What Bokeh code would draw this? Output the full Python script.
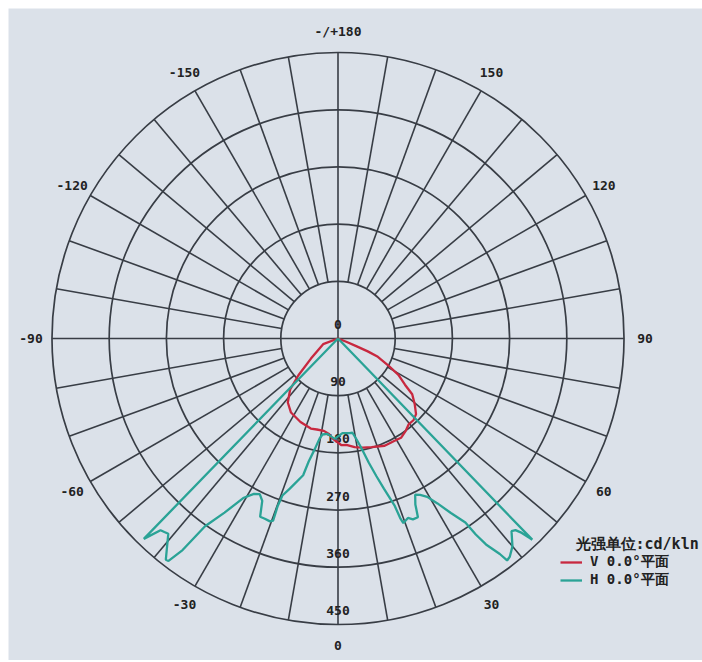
import numpy as np
from bokeh.plotting import figure
from bokeh.models import Legend, LegendItem, Label
from bokeh.embed import file_html
from bokeh.resources import INLINE
from bokeh.core.properties import value

# ---------------- data ----------------
ring_values = [90, 180, 270, 360, 450]
ring_label_values = [0, 90, 180, 270, 360, 450]
ring_labels = ["0", "90", "180", "270", "360", "450"]

angle_ticks = [0, 30, 60, 90, 120, 150, 180, -150, -120, -90, -60, -30]
angle_labels = ["0", "30", "60", "90", "120", "150", "-/+180", "-150", "-120", "-90", "-60", "-30"]
radial_step = 10  # degrees between spokes

# V 0.0° plane (red): angle in degrees (0 = down, + to the right), intensity cd/klm
v_angles = [-80, -69.2, -53.4, -47.1, -43.2, -38.1, -32.4, -24.2, -16.8, -13.1, -8.7, -5.4,
            -3.4, 1.9, 4.5, 8.7, 12.7, 17.2, 23.5, 28.7, 32.4, 36.4, 39.4, 42.7, 45.9, 49.4,
            53.1, 55.4, 58.9, 61.8, 65.3, 66.6, 67.1, 68.4, 80]
v_values = [0, 25, 53, 85, 110, 128, 138, 144, 148, 147, 147, 151,
            157, 168, 168, 173, 176, 179, 184, 184, 185, 180, 175, 175, 171, 159,
            146, 128, 111, 90, 69, 51, 33, 15, 0]

# H 0.0° plane (teal)
h_angles = [-44.6, -44.1, -42.8, -41.9, -41.0, -37.9, -37.3, -36.3, -35.3, -33.1, -30.6, -28.4,
            -26.7, -25.0, -23.6, -22.1, -20.4, -19.6, -19.8, -19.5, -17.8, -14.3, -13.4, -11.8,
            -10.4, -9.2, -6.3, -1.9, 2.7, 6.9, 8.7, 10.5, 12.3, 13.9, 15.6, 17.0, 18.7, 19.1,
            19.5, 21.3, 22.5, 24.1, 25.0, 26.3, 27.7, 29.4, 31.1, 32.9, 34.7, 35.1, 35.7, 36.9,
            37.3, 38.2, 40.0, 42.0, 42.8, 43.4, 43.8, 44.0, 44.4]
h_values = [0, 439, 411, 409, 407, 441, 440, 413, 362, 327, 291, 278,
            274, 282, 306, 306, 307, 304, 280, 262, 248, 222, 199, 177,
            160, 153, 151, 158, 149, 150, 150, 162, 179, 201, 225, 247, 277, 299,
            308, 303, 308, 308, 288, 274, 278, 286, 303, 327, 352, 377, 399, 424,
            439, 437, 427, 408, 411, 421, 434, 440, 0]

legend_title = "光强单位:cd/kln"
v_label = "V 0.0°平面"
h_label = "H 0.0°平面"

# ---------------- helpers ----------------
def to_xy(angles, vals):
    a = np.radians(np.asarray(angles, dtype=float))
    r = np.asarray(vals, dtype=float)
    return r * np.sin(a), -r * np.cos(a)

W, H = 702, 660
ML, MT = 8, 8                 # white photo margin on left/top
FW, FH = W - ML, H - MT       # frame size
scale = 0.6356                # px per cd/klm unit
cx, cy = 329.5, 330.0         # center in frame pixels
BG = "#dbe1e9"
GRID = "#383d45"
FONT = "DejaVu Sans Mono"
MONO = value(FONT)

p = figure(width=W, height=H, output_backend="svg", toolbar_location=None,
           x_range=(-cx / scale, (FW - cx) / scale),
           y_range=(-(FH - cy) / scale, cy / scale),
           min_border_left=ML, min_border_top=MT, min_border_right=0, min_border_bottom=0,
           background_fill_color=BG, border_fill_color="white")
p.axis.visible = False
p.grid.visible = False
p.outline_line_color = None

# rings
rmax = max(ring_values)
p.circle(x=[0] * len(ring_values), y=[0] * len(ring_values), radius=ring_values,
         fill_color=None, line_color=GRID, line_width=1.7)

# spokes
spoke_angles = np.arange(-180, 180, radial_step)
xs, ys = [], []
for a in spoke_angles:
    r0 = 0 if a % 90 == 0 else ring_values[0]
    x, y = to_xy([a, a], [r0, rmax])
    xs.append(list(x)); ys.append(list(y))
p.multi_line(xs=xs, ys=ys, line_color=GRID, line_width=1.6)

# angle labels
lab_r = 483
ax, ay = to_xy(angle_ticks, [lab_r] * len(angle_ticks))
p.text(x=ax, y=ay, text=angle_labels, text_font=MONO, text_font_style="bold",
       text_font_size="13px", text_color="#222222", text_align="center",
       text_baseline="middle")

# ring value labels (along the downward axis, just inside each ring)
rx, ry = to_xy([0] * len(ring_label_values), ring_label_values)
p.text(x=rx, y=ry + 22, text=ring_labels, text_font=MONO, text_font_style="bold",
       text_font_size="13px", text_color="#222222", text_align="center",
       text_baseline="middle")

# curves
vx, vy = to_xy(v_angles, v_values)
hx, hy = to_xy(h_angles, h_values)
rv = p.line(vx, vy, line_color="#c8283f", line_width=2.3)
rh = p.line(hx, hy, line_color="#2aa396", line_width=2.3)

# legend
legend = Legend(items=[LegendItem(label=v_label, renderers=[rv]),
                       LegendItem(label=h_label, renderers=[rh])],
                location=(552, 71), padding=0, margin=0, spacing=0,
                glyph_width=22, glyph_height=18, label_height=18, label_standoff=8,
                label_text_font=FONT, label_text_font_style="bold",
                label_text_font_size="14px", label_text_color="#222222",
                background_fill_alpha=0, border_line_color=None)
p.add_layout(legend, "center")

p.add_layout(Label(x=567, y=FH - 535, x_units="screen", y_units="screen", text=legend_title,
                   text_font=FONT, text_font_style="bold", text_font_size="15px",
                   text_color="#222222", text_baseline="middle"))

open("out.html", "w").write(file_html(p, INLINE))
